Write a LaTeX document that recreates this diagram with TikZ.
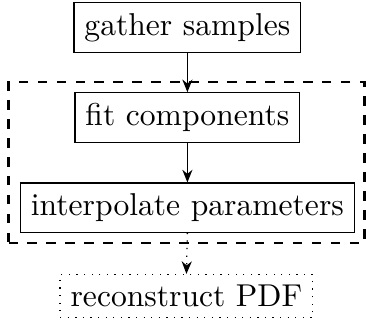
\documentclass[tikz,border=0pt]{standalone}
\usetikzlibrary{fit,arrows.meta}
\begin{document}
\begin{tikzpicture}[x=1pt,y=1pt,
  stepbox/.style={draw, rectangle, line width=0.4pt, inner sep=3.33pt},
  finalbox/.style={draw, rectangle, dotted, line width=0.4pt, inner sep=3.33pt},
  groupbox/.style={draw, rectangle, dashed, thick, inner sep=0pt},
  conn/.style={-{Stealth[length=4pt,width=3.2pt]}, line width=0.4pt}]
\useasboundingbox (0,0) rectangle (115.82,-103.16);
\node[stepbox] (gather) at (59.3,-8.7) {gather samples};
\node[stepbox] (fitn) at (59.3,-37.2) {fit components};
\node[stepbox] (interp) at (59.3,-65.7) {interpolate parameters};
\node[finalbox] (rec) at (59.0,-93.7) {reconstruct PDF};
\coordinate (grpNW) at (2.7,-25.9);
\coordinate (grpSE) at (115.3,-76.9);
\node[groupbox, fit=(grpNW)(grpSE)] (grp) {};
\draw[conn] (gather.south) -- (fitn.north);
\draw[conn] (fitn.south) -- (interp.north);
\draw[conn, dotted] (interp.south) -- (rec.north);
\end{tikzpicture}
\end{document}
